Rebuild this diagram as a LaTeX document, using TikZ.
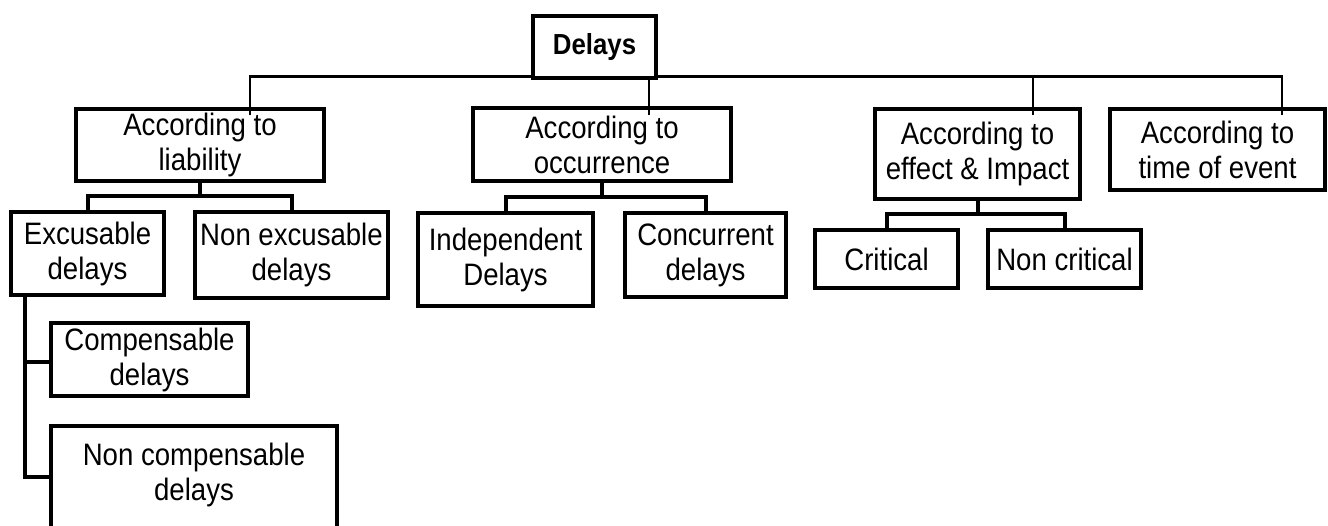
\documentclass[tikz,border=0pt]{standalone}
\usepackage{fontspec}
\setmainfont{Liberation Sans}[FakeStretch=0.89]
\usetikzlibrary{calc}
\begin{document}
\begin{tikzpicture}[x=1pt,y=-1pt,
  boxd/.style={draw=black,line width=4pt,fill=white,inner sep=0pt,align=center,
    font=\fontsize{31}{35}\selectfont},
  txt/.style={inner sep=0pt,align=center,font=\fontsize{31}{35}\selectfont},
  conn/.style={draw=black,line width=2.6pt},
  bus/.style={draw=black,line width=4pt}]
\useasboundingbox[fill=white] (0,0) rectangle (1328,525);
\clip (0,0) rectangle (1328,525);
% named coordinates for the free ends of the top bus
\coordinate (busL) at (250,76.5);
\coordinate (busR) at (1282,76.5);
\coordinate (x1) at (649,0);
\coordinate (x2) at (1033,0);
\coordinate (ex) at (25,0);
% connectors of the top level (drawn first, boxes on top)
\draw[conn] (250,115) |- (busR) -- (1282,115);
\draw[conn] (busL -| x1) -- (649,115);
\draw[conn] (busL -| x2) -- (1033,115);
% boxes
\node[boxd,font=\bfseries\fontsize{29}{35}\selectfont,minimum width=123,minimum height=62] (delays) at (594.5,47) {Delays};
\node[boxd,minimum width=248,minimum height=72,fill=none] (lia) at (200,145) {According to\\liability};
\node[boxd,minimum width=258,minimum height=73,fill=none] (occ) at (602,144.5) {According to\\occurrence};
\node[boxd,minimum width=205,minimum height=90,fill=none] (eff) at (977.5,154) {According to\\effect \& Impact};
\node[boxd,minimum width=215,minimum height=81,fill=none] (tim) at (1217.5,149.5) {According to\\time of event};
\node[boxd,minimum width=153,minimum height=83] (exc) at (87.5,253.5) {Excusable\\delays};
\node[boxd,minimum width=193,minimum height=86] (nexc) at (291.5,255) {Non excusable\\delays};
\node[boxd,minimum width=175,minimum height=93] (ind) at (505.5,259.5) {Independent\\Delays};
\node[boxd,minimum width=161,minimum height=84] (con) at (705.5,255) {Concurrent\\delays};
\node[boxd,minimum width=143,minimum height=58] (cri) at (886.5,259) {Critical};
\node[boxd,minimum width=153,minimum height=58] (ncr) at (1064.5,259) {Non critical};
\node[boxd,minimum width=197,minimum height=73] (comp) at (149.5,359.5) {Compensable\\delays};
\node[boxd,minimum width=286,minimum height=112] (ncomp) at (194,482) {};
\node[txt] (ncompt) at ([yshift=7pt]ncomp.center) {Non compensable\\delays};
% sub-level connectors
\draw[bus] (lia.south) -- ++(0,14);
\draw[bus] (exc.north) -- ++(0,-14) -| (nexc.north);
\draw[bus] (occ.south) -- ++(0,13);
\draw[bus] (ind.north) -- ++(0,-14) -| (con.north);
\draw[bus] (eff.south) -- ++(0,13);
\draw[bus] (cri.north) -- ++(0,-14) -| (ncr.north);
\draw[bus] (exc.south -| ex) |- ([yshift=-2pt]comp.west);
\draw[bus] ([yshift=-2pt]comp.west -| ex) |- ([yshift=5pt]ncomp.west);
\end{tikzpicture}
\end{document}
